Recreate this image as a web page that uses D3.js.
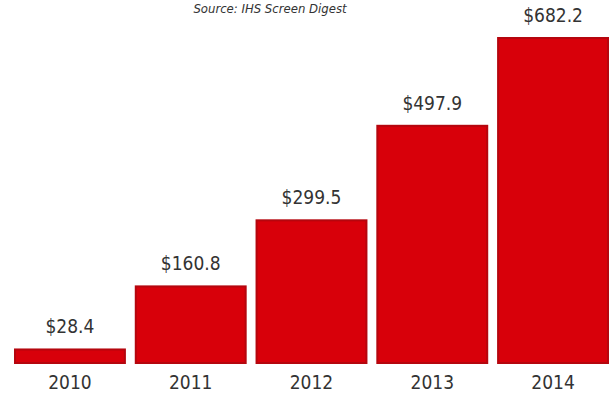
<!DOCTYPE html>
<html>
<head>
<meta charset="utf-8">
<script src="https://cdn.jsdelivr.net/npm/d3@7/dist/d3.min.js"></script>
<style>
  html, body { margin: 0; padding: 0; background: #fff; }
  svg { display: block; }
  text { font-family: "DejaVu Sans Condensed", "DejaVu Sans", sans-serif; fill: #333; }
</style>
</head>
<body>
<svg id="chart" width="610" height="398"></svg>
<script>
// Revenue by year, in millions of US dollars
const years = ["2010", "2011", "2012", "2013", "2014"];
const revenue = [28.4, 160.8, 299.5, 497.9, 682.2];
const valueLabels = ["$28.4", "$160.8", "$299.5", "$497.9", "$682.2"];
const sourceNote = "Source: IHS Screen Digest";

const svg = d3.select("#chart");
const baseline = 363;

const x = d3.scaleBand()
  .domain(years)
  .range([15, 608])
  .paddingInner(0.09)
  .paddingOuter(0);

const y = d3.scaleLinear()
  .domain([0, 682.2])
  .range([baseline, 38]);

const data = years.map((yr, i) => ({ year: yr, value: revenue[i], label: valueLabels[i] }));

// Source line at the top
svg.append("text")
  .attr("x", 270)
  .attr("y", 13)
  .attr("text-anchor", "middle")
  .style("font-size", "13px")
  .style("font-style", "italic")
  .style("fill", "#333")
  .text(sourceNote);

// Bars
const bars = svg.append("g");
bars.selectAll("rect")
  .data(data)
  .join("rect")
  .attr("x", d => x(d.year))
  .attr("y", d => y(d.value))
  .attr("width", x.bandwidth())
  .attr("height", d => baseline - y(d.value))
  .attr("fill", "#d8000a")
  .attr("stroke", "#b5060e")
  .attr("stroke-width", 2);

// Value labels above bars
svg.append("g").selectAll("text")
  .data(data)
  .join("text")
  .attr("x", d => x(d.year) + x.bandwidth() / 2)
  .attr("y", d => y(d.value) - 16)
  .attr("text-anchor", "middle")
  .style("font-size", "19px")
  .text(d => d.label);

// Category axis
const axis = svg.append("g")
  .attr("transform", `translate(0,${baseline})`)
  .call(d3.axisBottom(x).tickSize(0).tickPadding(13));
axis.select(".domain").remove();
axis.selectAll("text")
  .style("font-size", "19px")
  .style("font-family", "'DejaVu Sans Condensed', 'DejaVu Sans', sans-serif")
  .attr("fill", "#333");
</script>
</body>
</html>
